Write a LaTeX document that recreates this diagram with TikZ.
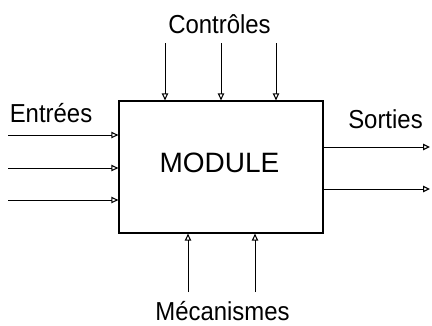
\documentclass[tikz,border=0pt]{standalone}
\usepackage{fontspec}
\setmainfont{Liberation Sans}
\usetikzlibrary{arrows.meta}
\newcommand{\narrowtext}[1]{\scalebox{0.92}[1]{#1}}
\begin{document}
\begin{tikzpicture}[x=1pt,y=-1pt,
  lbl/.style={inner sep=0pt,anchor=base,font=\fontsize{26}{30}\selectfont},
  flow/.style={line width=0.9pt,-{Triangle[open,length=7pt,width=6.5pt,line width=1.1pt]}},
  modbox/.style={draw,line width=1.3pt,minimum width=204pt,minimum height=132pt,inner sep=0pt}]
\useasboundingbox (0,0) rectangle (432,325);

% the module box and its name
\node[modbox] (mod) at (221,167) {};
\node[lbl,font=\fontsize{28}{32}\selectfont] (modname) at (219.5,172) {MODULE};

% labels of the four sides
\node[lbl] (inlbl) at (51,122) {\narrowtext{Entrées}};
\node[lbl] (ctllbl) at (219.5,33) {\narrowtext{Contrôles}};
\node[lbl] (outlbl) at (385.5,128) {\narrowtext{Sorties}};
\node[lbl] (meclbl) at (222.5,320) {\narrowtext{Mécanismes}};

% free ends of the arrows
\coordinate (in1) at (8,135);
\coordinate (in2) at (8,168);
\coordinate (in3) at (8,200);
\coordinate (c1) at (165,43);
\coordinate (c2) at (221,43);
\coordinate (c3) at (276,43);
\coordinate (o1) at (430,147);
\coordinate (o2) at (430,189);
\coordinate (m1) at (188,292);
\coordinate (m2) at (255,292);

% inputs
\foreach \p in {in1,in2,in3} \draw[flow] (\p) -- (\p -| mod.west);
% controls
\foreach \p in {c1,c2,c3} \draw[flow] (\p) -- (\p |- mod.north);
% outputs
\foreach \p in {o1,o2} \draw[flow] (\p -| mod.east) -- (\p);
% mechanisms
\foreach \p in {m1,m2} \draw[flow] (\p) -- (\p |- mod.south);
\end{tikzpicture}
\end{document}
